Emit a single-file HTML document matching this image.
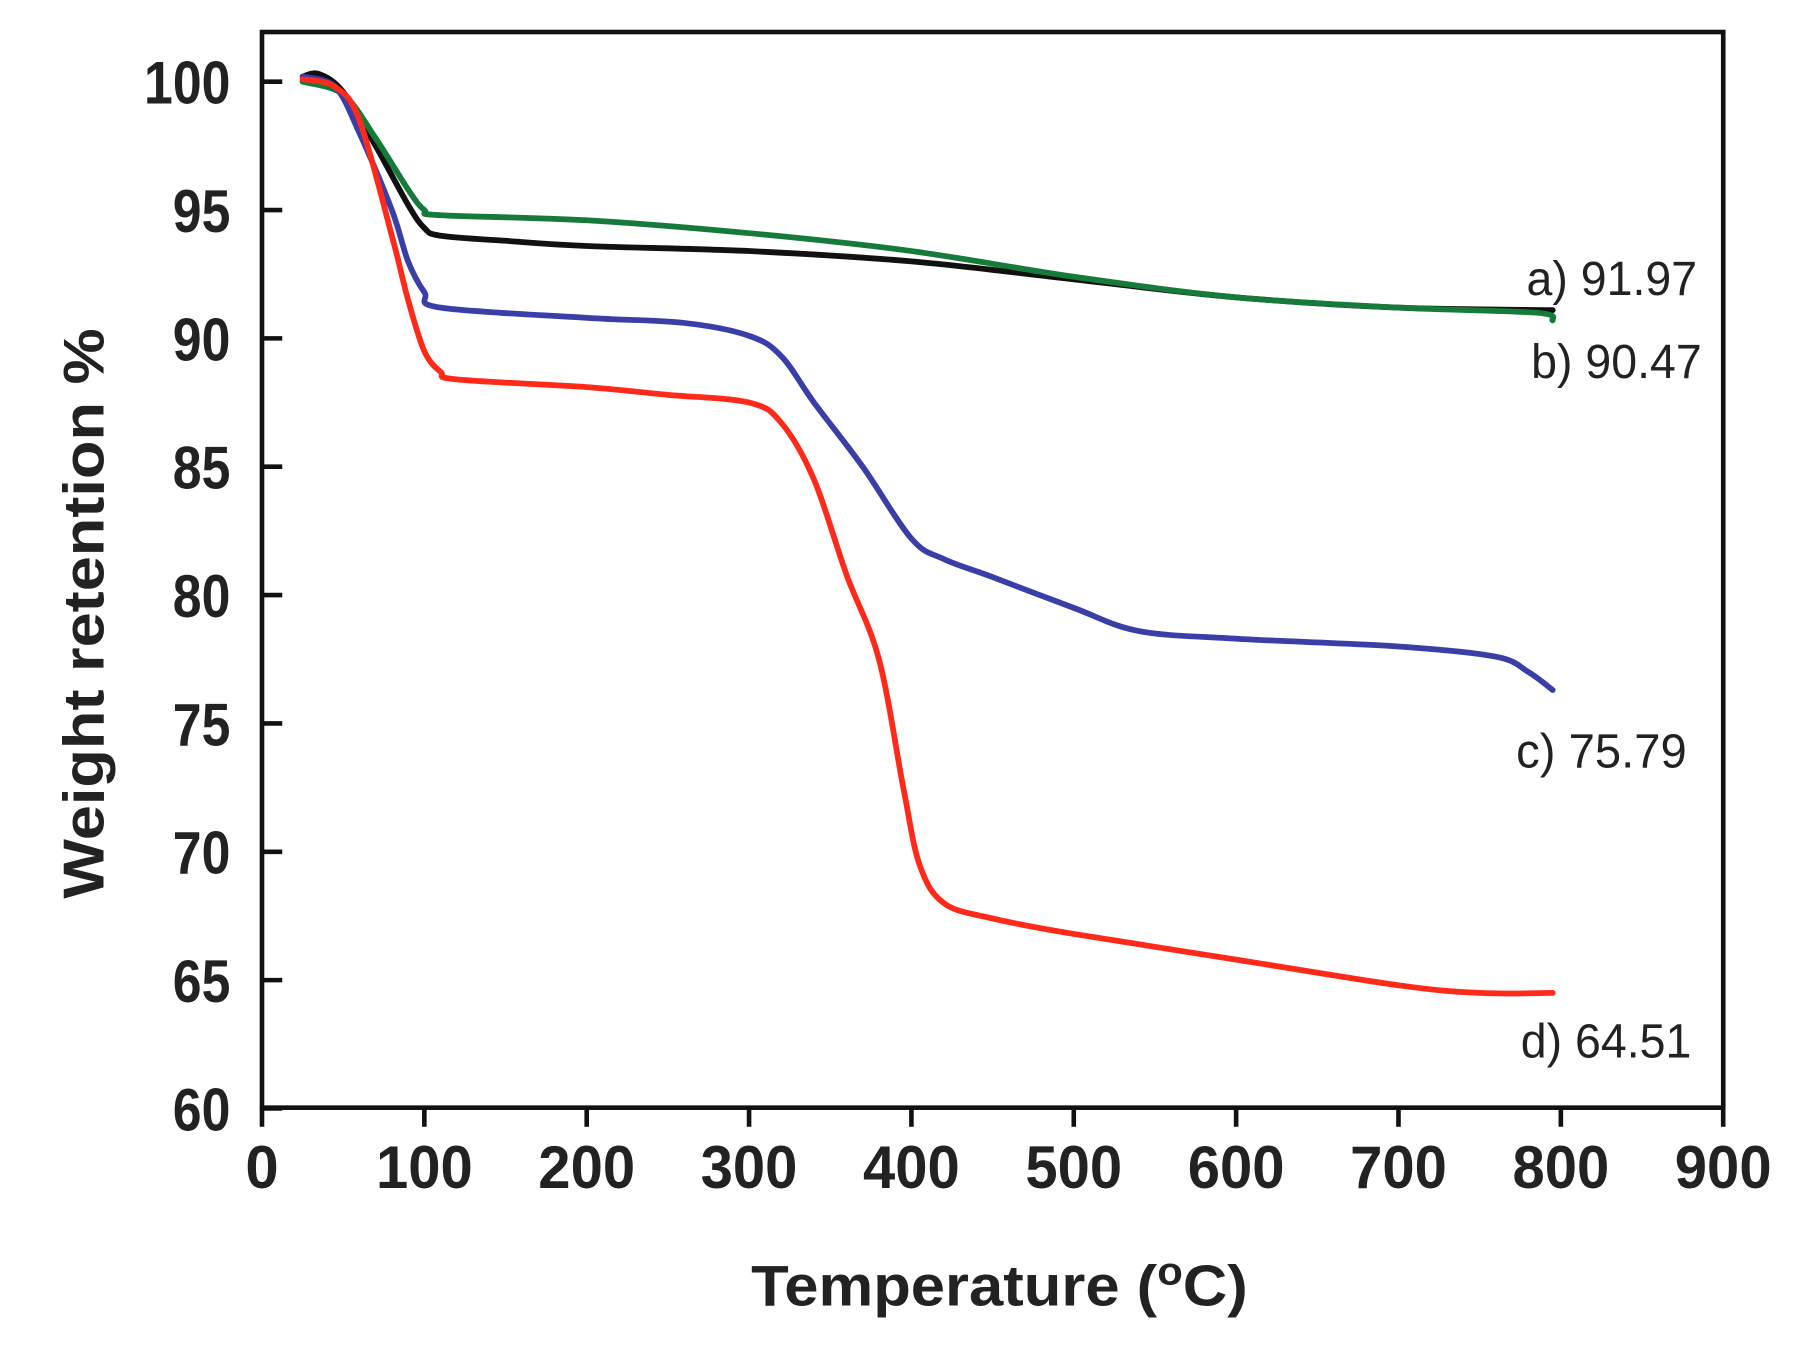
<!DOCTYPE html>
<html><head><meta charset="utf-8"><style>html,body{margin:0;padding:0;background:#fff}svg{display:block}</style></head><body>
<svg width="1795" height="1348" viewBox="0 0 1558 1170" preserveAspectRatio="none" xmlns="http://www.w3.org/2000/svg">
<rect width="1558" height="1170" fill="#fff"/>
<g font-family="Liberation Sans, sans-serif" font-weight="bold" font-size="52" fill="#222" id="ylab"></g>
<g font-family="Liberation Sans, sans-serif" font-weight="bold" font-size="52" fill="#222" text-anchor="middle" id="xlab"></g>
<g font-family="Liberation Sans, sans-serif" font-weight="bold" fill="#222">
<text x="652" y="1133" font-size="50" textLength="431" lengthAdjust="spacingAndGlyphs">Temperature (<tspan dy="-18" font-size="34">o</tspan><tspan dy="18">C)</tspan></text>
<text transform="translate(90,780) rotate(-90)" font-size="50" textLength="495" lengthAdjust="spacingAndGlyphs">Weight retention %</text>
</g>
<g font-family="Liberation Sans, sans-serif" font-size="42" fill="#222">
<text x="1325" y="256" textLength="148" lengthAdjust="spacingAndGlyphs">a) 91.97</text>
<text x="1329" y="328" textLength="148" lengthAdjust="spacingAndGlyphs">b) 90.47</text>
<text x="1316" y="666" textLength="148" lengthAdjust="spacingAndGlyphs">c) 75.79</text>
<text x="1320" y="918" textLength="148" lengthAdjust="spacingAndGlyphs">d) 64.51</text>
</g>
<g fill="none" stroke-linejoin="round" stroke-linecap="round" stroke-width="5">
<path id="a" stroke="#111"/>
<path id="b" stroke="#157a3a"/>
<path id="c" stroke="#3a3fa8"/>
<path id="d" stroke="#ff2a1a"/>
</g>
<rect x="227.4" y="27.8" width="1268.3" height="933.6" fill="none" stroke="#111" stroke-width="4"/>
<g stroke="#111" stroke-width="4" id="ticks"></g>
</svg>
<script>
function X(t){return 227.4+t*1.4092}function Y(v){return 70.9+(100-v)*22.28}
var D={a:[[25,100.2],[35,100.3],[50,99.6],[70,97.5],[90,95.2],[100,94.3],[110,94.0],[150,93.8],[200,93.6],[300,93.4],[400,93.0],[500,92.3],[600,91.6],[700,91.2],[795,91.1]],
b:[[25,100],[50,99.5],[70,97.8],[90,95.8],[100,95.0],[110,94.8],[200,94.6],[300,94.1],[400,93.4],[500,92.4],[600,91.6],[700,91.2],[785,91.0],[795,90.7]],
c:[[25,100.2],[45,99.8],[60,98],[80,95],[90,93],[100,91.8],[110,91.2],[200,90.8],[260,90.6],[300,90.1],[320,89.3],[340,87.5],[370,85],[400,82.2],[420,81.4],[450,80.7],[500,79.5],[540,78.6],[600,78.3],[700,78.0],[760,77.6],[780,77],[795,76.3]],
d:[[25,100.1],[45,99.8],[60,98.5],[80,94],[90,91.5],[100,89.5],[110,88.7],[120,88.4],[200,88.1],[250,87.8],[300,87.5],[320,86.7],[340,84.5],[360,80.8],[380,77.5],[395,72.5],[405,69.5],[420,68],[450,67.4],[500,66.8],[600,65.8],[700,64.8],[750,64.5],[795,64.5]]};
function cr(p){var q=p.map(function(a){return [X(a[0]),Y(a[1])]});var s='M'+q[0][0]+','+q[0][1];
for(var i=0;i<q.length-1;i++){var p0=q[Math.max(i-1,0)],p1=q[i],p2=q[i+1],p3=q[Math.min(i+2,q.length-1)];
var c1x=p1[0]+(p2[0]-p0[0])/6,c1y=p1[1]+(p2[1]-p0[1])/6,c2x=p2[0]-(p3[0]-p1[0])/6,c2y=p2[1]-(p3[1]-p1[1])/6;
s+='C'+c1x.toFixed(1)+','+c1y.toFixed(1)+' '+c2x.toFixed(1)+','+c2y.toFixed(1)+' '+p2[0].toFixed(1)+','+p2[1].toFixed(1);}return s;}
for(var k in D){document.getElementById(k).setAttribute('d',cr(D[k]));}
var s='',yl='',xl='';
for(var t=0;t<=900;t+=100){s+='<line x1="'+X(t)+'" y1="961" x2="'+X(t)+'" y2="978"/>';
xl+='<text x="'+X(t)+'" y="1031"'+(t>0?' textLength="84" lengthAdjust="spacingAndGlyphs"':'')+'>'+t+'</text>';}
for(var v=60;v<=100;v+=5){s+='<line x1="227" y1="'+Y(v)+'" x2="245" y2="'+Y(v)+'"/>';
var w=v==100?75:50;yl+='<text x="'+(200-w)+'" y="'+(Y(v)+19)+'" textLength="'+w+'" lengthAdjust="spacingAndGlyphs">'+v+'</text>';}
document.getElementById('ticks').innerHTML=s;document.getElementById('ylab').innerHTML=yl;document.getElementById('xlab').innerHTML=xl;
</script>
</body></html>
